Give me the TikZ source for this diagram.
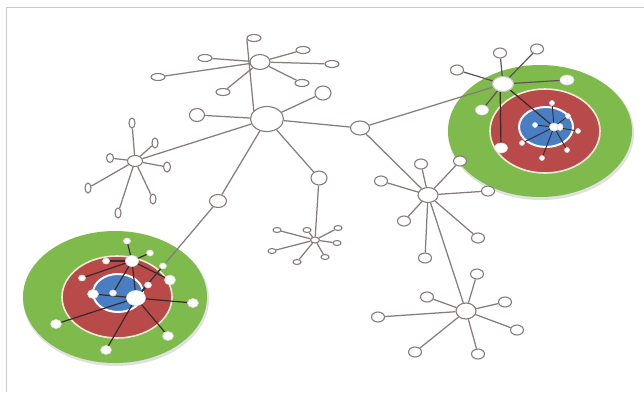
\documentclass[tikz,border=0pt]{standalone}
\usetikzlibrary{shapes.geometric}
\definecolor{edgegray}{HTML}{877C7C}
\definecolor{darkedge}{HTML}{3A2A2A}
\definecolor{midedge}{HTML}{5E5252}
\definecolor{ringgreen}{HTML}{7FBA4C}
\definecolor{ringred}{HTML}{B84B49}
\definecolor{ringblue}{HTML}{4A7EC2}
\definecolor{rimcream}{HTML}{F2EAD6}
\definecolor{framegray}{HTML}{C8C8C8}
\pgfdeclarelayer{rings}
\pgfdeclarelayer{edges}
\pgfsetlayers{rings,edges,main}
\tikzset{
  nd/.style 2 args={ellipse, draw=edgegray, fill=white, line width=1.1pt,
    inner sep=0pt, minimum width=#1, minimum height=#2},
  wn/.style 2 args={ellipse, draw=white!75!gray, fill=white, line width=0.6pt,
    inner sep=0pt, minimum width=#1, minimum height=#2},
  ln/.style={draw=edgegray, line width=1.25pt},
  dk/.style={draw=darkedge, line width=1.2pt},
  md/.style={draw=midedge, line width=1.2pt},
}
\begin{document}
\begin{tikzpicture}[x=1pt,y=-1pt]
\useasboundingbox (0,0) rectangle (644,392);

% ---------- page and target rings ----------
\begin{pgfonlayer}{rings}
  \fill[white] (0,0) rectangle (644,392);
  \draw[framegray, line width=1pt] (6,392) -- (6,7) -- (644,7);
  % right ring
  \fill[black!12] (541,133) ellipse [x radius=93, y radius=67];
  \fill[ringgreen] (540,131) ellipse [x radius=92, y radius=66];
  \fill[ringred, draw=rimcream, line width=1.6pt] (545,131) ellipse [x radius=55, y radius=42];
  \fill[ringblue, draw=white, line width=2pt] (546,127) ellipse [x radius=27, y radius=20];
  % left ring
  \fill[black!12] (116,299) ellipse [x radius=93, y radius=67];
  \fill[ringgreen] (115,297) ellipse [x radius=92, y radius=66];
  \fill[ringred, draw=rimcream, line width=1.6pt] (117,297) ellipse [x radius=55, y radius=41];
  \fill[ringblue, draw=white, line width=2pt] (118,293) ellipse [x radius=25, y radius=19];
\end{pgfonlayer}

% ---------- top star ----------
\node[nd={20pt}{15pt}] (hA) at (260,62) {};
\node[nd={14pt}{7pt}] (a1) at (254,38) {};
\node[nd={14pt}{7pt}] (a2) at (205,58) {};
\node[nd={14pt}{7pt}] (a3) at (158,77) {};
\node[nd={14pt}{7pt}] (a4) at (223,92) {};
\node[nd={14pt}{7pt}] (a5) at (303,50) {};
\node[nd={14pt}{7pt}] (a6) at (332,64) {};
\node[nd={14pt}{7pt}] (a7) at (302,83) {};

% ---------- central hub ----------
\node[nd={33pt}{25pt}] (bh) at (267,119) {};
\node[nd={15pt}{13pt}] (b1) at (197,115) {};
\node[nd={16pt}{14pt}] (b2) at (323,93) {};
\node[nd={19pt}{14pt}] (C) at (360,128) {};
\node[nd={17pt}{13pt}] (E) at (218,201) {};
\node[nd={16pt}{14pt}] (F) at (319,178) {};

% ---------- left star ----------
\node[nd={15pt}{11pt}] (D) at (135,161) {};
\node[nd={6pt}{10pt}] (d1) at (132,123) {};
\node[nd={6pt}{10pt}] (d2) at (155,143) {};
\node[nd={7pt}{9pt}] (d3) at (110,158) {};
\node[nd={7pt}{10pt}] (d4) at (167,167) {};
\node[nd={6pt}{10pt}] (d5) at (88,188) {};
\node[nd={6pt}{10pt}] (d6) at (153,199) {};
\node[nd={6pt}{10pt}] (d7) at (118,213) {};

% ---------- small star ----------
\node[nd={9pt}{6pt}] (J) at (315,240) {};
\node[nd={8pt}{5pt}] (j1) at (277,230) {};
\node[nd={8pt}{5pt}] (j2) at (307,230) {};
\node[nd={8pt}{5pt}] (j3) at (338,228) {};
\node[nd={8pt}{5pt}] (j4) at (337,243) {};
\node[nd={8pt}{5pt}] (j5) at (272,251) {};
\node[nd={8pt}{5pt}] (j6) at (325,257) {};
\node[nd={8pt}{5pt}] (j7) at (297,262) {};

% ---------- right middle star ----------
\node[nd={20pt}{15pt}] (H) at (428,195) {};
\node[nd={13pt}{10pt}] (h1) at (421,164) {};
\node[nd={13pt}{10pt}] (h2) at (460,161) {};
\node[nd={13pt}{10pt}] (h3) at (381,181) {};
\node[nd={13pt}{10pt}] (h4) at (488,191) {};
\node[nd={13pt}{10pt}] (h5) at (404,221) {};
\node[nd={13pt}{10pt}] (h6) at (478,238) {};
\node[nd={13pt}{10pt}] (h7) at (425,258) {};

% ---------- lower right star ----------
\node[nd={20pt}{16pt}] (I) at (466,311) {};
\node[nd={13pt}{10pt}] (i1) at (477,274) {};
\node[nd={13pt}{10pt}] (i2) at (427,297) {};
\node[nd={13pt}{10pt}] (i3) at (505,302) {};
\node[nd={13pt}{10pt}] (i4) at (378,317) {};
\node[nd={13pt}{10pt}] (i5) at (517,330) {};
\node[nd={13pt}{10pt}] (i6) at (415,352) {};
\node[nd={13pt}{10pt}] (i7) at (478,354) {};

% ---------- right ring cluster ----------
\node[nd={21pt}{15pt}, draw=white!55!gray] (G) at (503,84) {};
\node[nd={13pt}{10pt}] (g1) at (500,53) {};
\node[nd={13pt}{10pt}] (g2) at (537,49) {};
\node[nd={13pt}{10pt}] (g3) at (457,70) {};
\node[wn={14pt}{10pt}] (g4) at (567,80) {};
\node[wn={13pt}{10pt}] (g5) at (482,110) {};
\node[wn={13pt}{10pt}] (g6) at (501,148) {};
\node[wn={9pt}{8pt}] (G2) at (554,127) {};
\node[wn={6pt}{7pt}] (G3) at (560,127) {};
\node[wn={5pt}{5pt}] (q1) at (552,103) {};
\node[wn={5pt}{5pt}] (q2) at (568,116) {};
\node[wn={5pt}{5pt}] (q3) at (535,125) {};
\node[wn={5pt}{5pt}] (q4) at (578,131) {};
\node[wn={5pt}{5pt}] (q5) at (522,143) {};
\node[wn={5pt}{5pt}] (q6) at (567,150) {};
\node[wn={5pt}{5pt}] (q7) at (542,158) {};

% ---------- left ring cluster ----------
\node[wn={19pt}{15pt}] (K) at (136,298) {};
\node[wn={13pt}{11pt}] (K2) at (132,261) {};
\node[wn={7pt}{6pt}] (k1) at (127,241) {};
\node[wn={7pt}{6pt}] (k2) at (150,253) {};
\node[wn={7pt}{6pt}] (k3) at (106,261) {};
\node[wn={7pt}{6pt}] (k4) at (163,266) {};
\node[wn={7pt}{6pt}] (k5) at (82,278) {};
\node[wn={11pt}{10pt}] (k6) at (170,280) {};
\node[wn={7pt}{6pt}] (k7) at (148,285) {};
\node[wn={11pt}{9pt}] (k8) at (93,294) {};
\node[wn={7pt}{6pt}] (k9) at (113,293) {};
\node[wn={11pt}{9pt}] (k10) at (193,303) {};
\node[wn={11pt}{9pt}] (k11) at (56,324) {};
\node[wn={11pt}{9pt}] (k12) at (168,336) {};
\node[wn={11pt}{9pt}] (k13) at (106,350) {};

% ---------- connectors ----------
\begin{pgfonlayer}{edges}
  % top star
  \foreach \n in {a2,a3,a4,a5,a6,a7} \draw[ln] (hA) -- (\n);
  \draw[ln] (a1.190) -- (bh.148);
  % central hub
  \foreach \n in {b1,b2,C,D,E,F} \draw[ln] (bh) -- (\n);
  % left star
  \foreach \n in {d1,d2,d3,d4,d5,d6,d7} \draw[ln] (D) -- (\n);
  % small star
  \draw[ln] (F) -- (J);
  \foreach \n in {j1,j2,j3,j4,j5,j6,j7} \draw[ln] (J) -- (\n);
  % right middle star
  \draw[ln] (C) -- (H);
  \foreach \n in {h1,h2,h3,h4,h5,h6,h7} \draw[ln] (H) -- (\n);
  % lower right star
  \draw[ln] (H) -- (I);
  \foreach \n in {i1,i2,i3,i4,i5,i6,i7} \draw[ln] (I) -- (\n);
  % right ring cluster
  \draw[ln] (C) -- (G);
  \foreach \n in {g1,g2,g3,g4,g5} \draw[md] (G) -- (\n);
  \draw[dk] (G.250) -- (g6);
  \draw[dk] (G) -- (G2);
  \foreach \n in {q1,q2,q3,q4,q5,q6,q7} \draw[dk, line width=0.9pt] (G2) -- (\n);
  % left ring cluster
  \draw[ln] (E) -- (K);
  \foreach \n in {k1,k2,k3,k5,k9,k6} \draw[dk] (K2) -- (\n);
  \draw[dk] (K2) -- (K);
  \foreach \n in {k4,k7,k8,k10,k11,k12,k13} \draw[dk] (K) -- (\n);
\end{pgfonlayer}
\end{tikzpicture}
\end{document}
